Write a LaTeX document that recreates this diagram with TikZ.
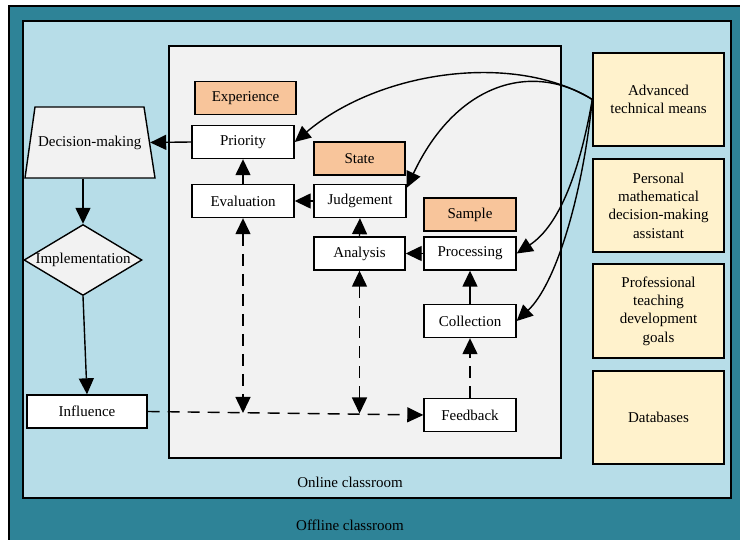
\documentclass[tikz,border=0pt]{standalone}
\usepackage{fontspec}
\setmainfont{Liberation Serif}
\usetikzlibrary{arrows.meta,shapes.geometric,calc}
\definecolor{offline}{RGB}{46,131,151}
\definecolor{online}{RGB}{183,221,232}
\definecolor{panel}{RGB}{242,242,242}
\definecolor{peach}{RGB}{248,197,155}
\definecolor{cream}{RGB}{255,242,204}
\begin{document}
\begin{tikzpicture}[x=1pt,y=-1pt,
  font=\fontsize{15}{18.3}\selectfont,
  line width=1.4pt,
  tip/.style={-{Triangle[length=16pt,width=15pt]}},
  both/.style={{Triangle[length=16pt,width=15pt]}-{Triangle[length=16pt,width=15pt]}},
  dsh/.style={dash pattern=on 12pt off 8pt},
  box/.style={draw,fill=white,inner sep=0pt,minimum height=33pt},
  tag/.style={draw,fill=peach,inner sep=0pt,minimum height=33pt},
  side/.style={draw,fill=cream,inner sep=0pt,minimum width=131pt,minimum height=93pt,align=center}]
\clip (0,0) rectangle (740,540);
\fill[white] (0,0) rectangle (740,540);
% layers
\draw[fill=offline] (9,6) rectangle (760,560);
\draw[fill=online] (23,21) rectangle (731,498);
\draw[fill=panel] (169,46) rectangle (561,458);
\node (onl) at (350,482) {Online classroom};
\node (offl) at (350,525) {Offline classroom};
% inner nodes
\node[tag,minimum width=101pt] (exp) at (245.5,98) {Experience};
\node[box,minimum width=102pt] (pri) at (243,142) {Priority};
\node[box,minimum width=102pt] (eva) at (243,201) {Evaluation};
\node[tag,minimum width=91pt] (sta) at (359.5,158.5) {State};
\node[box,minimum width=92pt] (jud) at (360,201) {Judgement};
\node[box,minimum width=91pt] (ana) at (359.5,253.5) {Analysis};
\node[tag,minimum width=92pt] (sam) at (470,214.5) {Sample};
\node[box,minimum width=92pt] (pro) at (470,253.5) {Processing};
\node[box,minimum width=92pt] (col) at (470,321) {Collection};
\node[box,minimum width=92pt] (fee) at (470,415) {Feedback};
\node[box,minimum width=120pt] (inf) at (87,411.5) {Influence};
% left flow
\draw[fill=panel] (35,107) -- (144,107) -- (155,178) -- (25,178) -- cycle;
\node[inner sep=0pt,minimum width=119.5pt,minimum height=71pt] (dm) at (89.75,142.5) {Decision-making};
\node[draw,fill=panel,diamond,aspect=1.66,minimum width=118pt,minimum height=71pt,inner sep=0pt] (imp) at (83,260) {Implementation};
% side boxes
\node[side] (adv) at (658.5,99.5) {Advanced\\technical means};
\node[side] (per) at (658.5,205.5) {Personal\\mathematical\\decision-making\\assistant};
\node[side,minimum height=94pt] (prof) at (658.5,311) {Professional\\teaching\\development\\goals};
\node[side] (db) at (658.5,417.5) {Databases};
% coordinates on feedback line
\coordinate (e1) at (243,413);
\coordinate (a1) at (359.5,413.5);
% connectors
\draw[tip] (dm.south -| imp.north) -- (imp.north);
\draw[tip] (imp.south) -- (inf.north);
\draw[tip] (pri.west) -- (dm.east);
\draw[tip] (eva.north) -- (pri.south);
\draw[tip] (jud.west) -- (eva.east);
\draw[tip] (ana.north) -- (jud.south);
\draw[tip] (pro.west) -- (ana.east);
\draw[tip] (col.north) -- (pro.south);
\draw[tip,dsh] (fee.north) -- (col.south);
\draw[tip,dsh] (inf.east) -- (fee.west);
\draw[both,dsh] (eva.south) -- (e1);
\draw[both,dsh] (ana.south) -- (a1);
% curved arrows from advanced technical means
\draw[tip] (adv.west) .. controls (515,52) and (380,70) .. (pri.east);
\draw[tip] (adv.west) .. controls (530,60) and (455,85) .. ($(jud.north east)+(0,4)$);
\draw[tip] (adv.west) .. controls (580,170) and (560,225) .. (pro.east);
\draw[tip] (adv.west) .. controls (582,200) and (555,285) .. (col.east);
\end{tikzpicture}
\end{document}
